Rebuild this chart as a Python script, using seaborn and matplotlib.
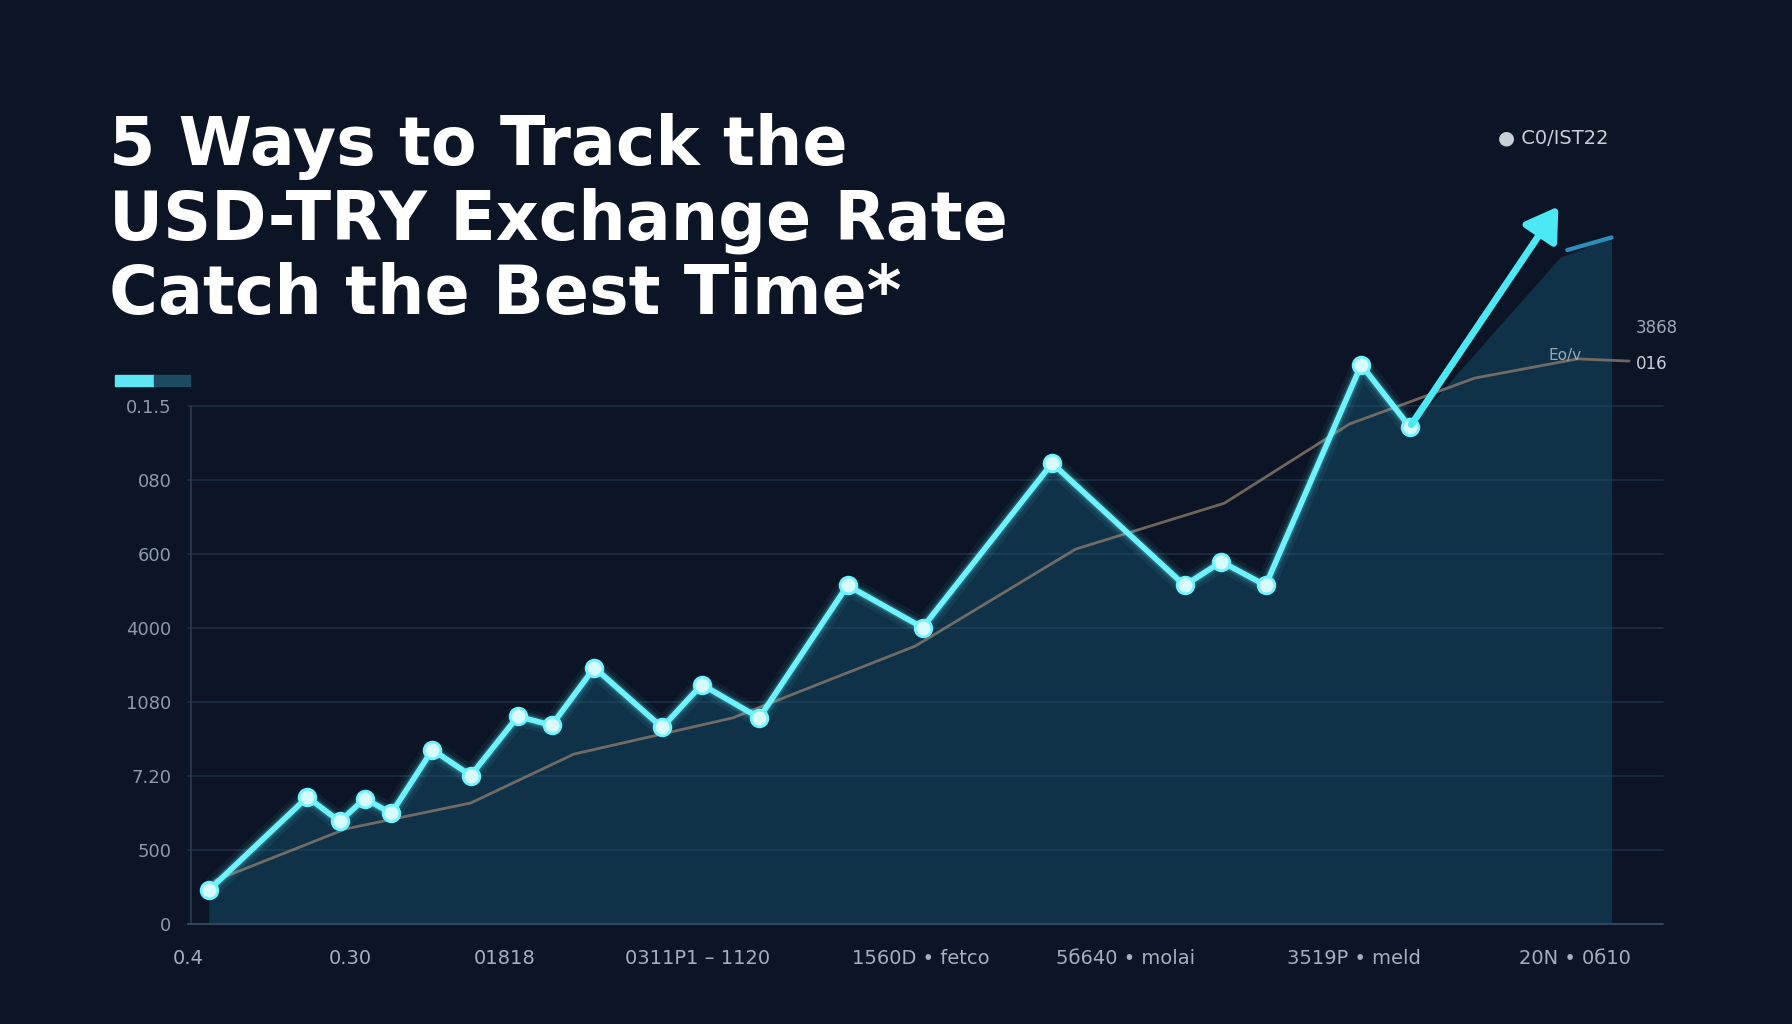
import numpy as np
import pandas as pd
import matplotlib
matplotlib.use("Agg")
import matplotlib.pyplot as plt
import seaborn as sns

# data (x in 0-100 span of the axis, y in grid units)
x_pts = [1.2, 7.9, 10.1, 11.8, 13.6, 16.4, 19.0, 22.2, 24.5, 27.4, 32.0, 34.7, 38.6, 44.6, 49.7, 58.5, 67.5, 70.0, 73.0, 79.5, 82.8]
y_pts = [0.45, 1.71, 1.38, 1.69, 1.49, 2.35, 2.0, 2.8, 2.68, 3.46, 2.65, 3.23, 2.78, 4.57, 4.0, 6.22, 4.57, 4.89, 4.57, 7.55, 6.71]
arrow_end = (93.0, 9.72)
trend_x = [1.6, 10.5, 19.0, 26.0, 36.8, 49.2, 60.1, 70.2, 78.7, 87.2, 94.2, 97.7]
trend_y = [0.58, 1.28, 1.63, 2.29, 2.78, 3.75, 5.06, 5.68, 6.75, 7.37, 7.63, 7.6]
y_ticks = [0, 1, 2, 3, 4, 5, 6, 7]
y_labels = ["0", "500", "7.20", "1080", "4000", "600", "080", "0.1.5"]
x_ticks = [-0.2, 10.8, 21.3, 34.4, 49.6, 63.5, 79.0, 94.0]
x_labels = ["0.4", "0.30", "01818", "0311P1 – 1120", "1560D • fetco", "5б640 • molai", "3519P • meld", "20N • 0б10"]

sns.set_theme(style="dark")
bg = "#0b1525"
fig = plt.figure(figsize=(17.92, 10.24), dpi=100, facecolor=bg)
ax = fig.add_axes([0.105, 0.098, 0.823, 0.506])
ax.set_facecolor(bg)
for s in ax.spines.values():
    s.set_visible(False)
ax.set_xlim(0, 100)
ax.set_ylim(0, 7)
for t in y_ticks:
    ax.axhline(t, color="#1d2f44", lw=1.2, zorder=0)
ax.axvline(0, ymax=1.0, color="#2a3a4e", lw=1.2)
ax.axhline(0, color="#33455a", lw=1.5)

# filled area
fx = x_pts + [arrow_end[0], 96.5]
fy = y_pts + [9.0, 9.27]
ax.fill_between(fx, fy, 0, color="#1a5f80", alpha=0.4, lw=0, zorder=1, clip_on=False)
ax.plot([93.5, 96.5], [9.1, 9.27], color="#2a8fbf", lw=3, clip_on=False)

sns.lineplot(x=trend_x, y=trend_y, ax=ax, color="#8a7a6a", lw=2, alpha=0.8, zorder=2)
for lw, a in [(14, 0.06), (9, 0.1), (6, 0.2)]:
    ax.plot(x_pts, y_pts, color="#5ff0ff", lw=lw, alpha=a, solid_joinstyle="round", zorder=3, clip_on=False)
sns.lineplot(x=x_pts, y=y_pts, ax=ax, color="#6ff4ff", lw=4, marker="o", markersize=12,
             markerfacecolor="#d8fbff", markeredgecolor="#6ff4ff", markeredgewidth=2, zorder=4)
for ln in ax.lines:
    ln.set_clip_on(False)
ax.annotate("", xy=arrow_end, xytext=(x_pts[-1], y_pts[-1]),
            arrowprops=dict(arrowstyle="-|>,head_length=1.6,head_width=1.0", color="#4be8f5", lw=5),
            annotation_clip=False, zorder=5)

ax.set_yticks(y_ticks)
ax.set_yticklabels(y_labels, color="#8d9aa8", fontsize=13)
ax.set_xticks(x_ticks)
ax.set_xticklabels(x_labels, color="#a6b0bb", fontsize=14)
ax.tick_params(axis="x", length=6, color="#55677a", pad=12)
ax.tick_params(axis="y", length=0, pad=12)

fig.text(0.061, 0.89, "5 Ways to Track the\nUSD-TRY Exchange Rate\nCatch the Best Time*",
         color="white", fontsize=48, fontweight="bold", va="top", linespacing=1.15,
         family="DejaVu Sans")
fig.patches.append(plt.Rectangle((0.064, 0.623), 0.022, 0.011, transform=fig.transFigure, color="#5ee6f5"))
fig.patches.append(plt.Rectangle((0.086, 0.623), 0.02, 0.011, transform=fig.transFigure, color="#1f4a63"))
fig.text(0.836, 0.86, "● C0/IST22", color="#c9cfd6", fontsize=14)
fig.text(0.913, 0.675, "3868", color="#9ea8b3", fontsize=12)
fig.text(0.864, 0.648, "Eo/v", color="#9ea8b3", fontsize=11)
fig.text(0.913, 0.64, "016", color="#c9cfd6", fontsize=12)
fig.savefig("out.png", dpi=100, facecolor=bg)
